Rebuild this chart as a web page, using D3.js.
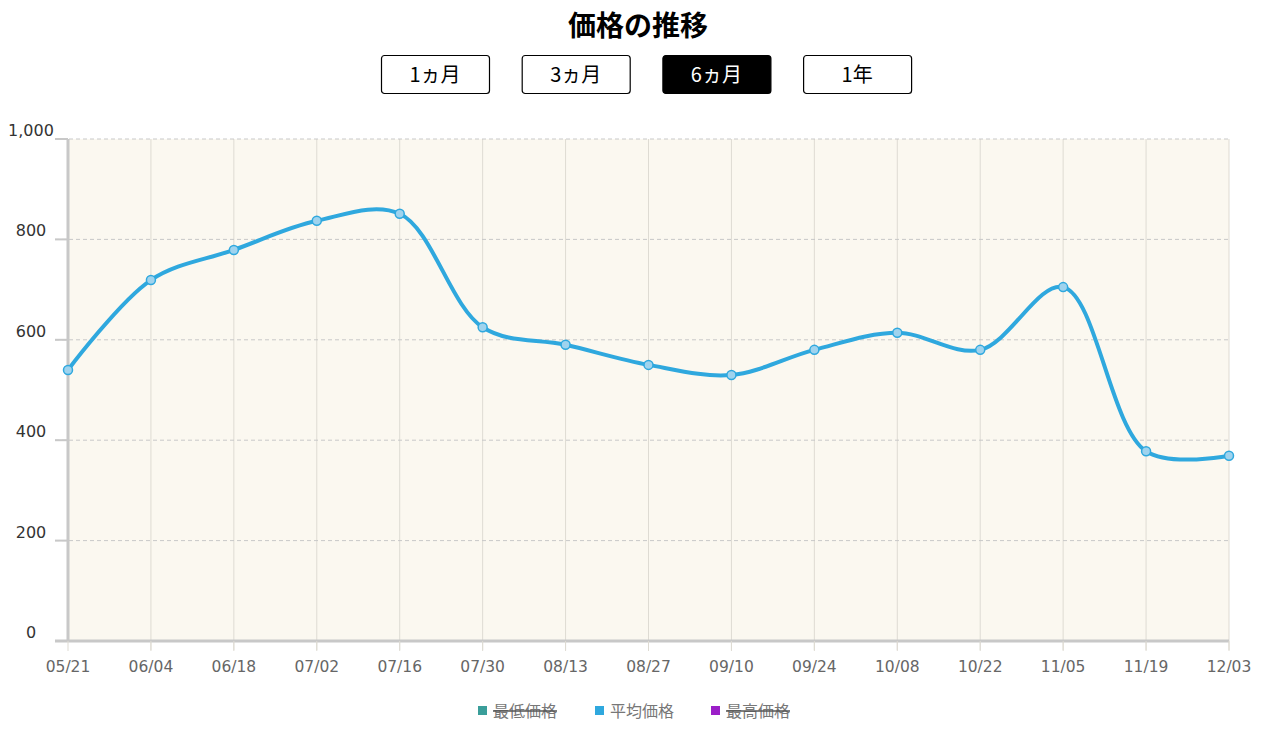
<!DOCTYPE html>
<html><head><meta charset="utf-8">
<script src="https://cdn.jsdelivr.net/npm/d3@7"></script>
<style>body{margin:0;background:#fff;font-family:"Noto Sans CJK JP","Noto Sans",sans-serif;}</style>
</head><body>
<div id="chart"></div>
<script>
var dates = ["05/21","06/04","06/18","07/02","07/16","07/30","08/13","08/27","09/10","09/24","10/08","10/22","11/05","11/19","12/03"];
var avgPrice = [540,719,779,837,851,625,590,550,530,580,614,580,705,378,369];
var yTicks = [0,200,400,600,800,1000];
var buttons = ["1ヵ月","3ヵ月","6ヵ月","1年"];
var legendItems = [{name:"最低価格",color:"#3a9e9a",off:true},{name:"平均価格",color:"#2fa8de",off:false},{name:"最高価格",color:"#9b1fc8",off:true}];

var svg = d3.select("#chart").append("svg").attr("width",1261).attr("height",729);
var font = '"Noto Sans CJK JP", sans-serif';

svg.append("text").attr("x",638).attr("y",36).attr("text-anchor","middle")
  .attr("font-size",28).attr("font-weight","bold").attr("font-family",font).text("価格の推移");

buttons.forEach(function(b,i){
  var g = svg.append("g").attr("transform","translate("+(381+i*140.7)+",55)");
  var active = i===2;
  g.append("rect").attr("x",0.5).attr("y",0.5).attr("width",108).attr("height",38).attr("rx",3)
    .attr("fill",active?"#000":"#fff").attr("stroke","#000").attr("stroke-width",1.2);
  g.append("text").attr("x",54).attr("y",27).attr("text-anchor","middle").attr("font-size",20)
    .attr("font-family",font).attr("fill",active?"#fff":"#000").text(b);
});

var x = d3.scalePoint().domain(dates).range([68,1229]);
var y = d3.scaleLinear().domain([0,1000]).range([641,139]);

svg.append("rect").attr("x",68).attr("y",139).attr("width",1161).attr("height",502).attr("fill","#fbf8f0");

svg.selectAll(".vg").data(dates.slice(1)).enter().append("line")
  .attr("x1",d=>x(d)).attr("x2",d=>x(d)).attr("y1",139).attr("y2",650)
  .attr("stroke","#dedbd3").attr("stroke-width",1);
svg.selectAll(".hg").data(yTicks.slice(1)).enter().append("line")
  .attr("x1",55).attr("x2",1229).attr("y1",d=>y(d)).attr("y2",d=>y(d))
  .attr("stroke","#c8c8c8").attr("stroke-dasharray","4,3");
svg.selectAll(".ht").data(yTicks).enter().append("line")
  .attr("x1",55).attr("x2",68).attr("y1",d=>y(d)).attr("y2",d=>y(d))
  .attr("stroke","#c8c8c8").attr("stroke-width",2);
svg.append("line").attr("x1",68).attr("x2",68).attr("y1",139).attr("y2",642).attr("stroke","#c8c8c8").attr("stroke-width",3);
svg.append("line").attr("x1",55).attr("x2",1229).attr("y1",641).attr("y2",641).attr("stroke","#c8c8c8").attr("stroke-width",3);
svg.selectAll(".xt").data(dates).enter().append("line")
  .attr("x1",d=>x(d)).attr("x2",d=>x(d)).attr("y1",641).attr("y2",651).attr("stroke","#dedbd3");

svg.selectAll(".yl").data(yTicks).enter().append("text")
  .attr("x",31).attr("y",d=>y(d)-3).attr("text-anchor","middle").attr("font-size",16)
  .attr("font-family","DejaVu Sans, sans-serif").attr("fill","#333").text(d3.format(","));
svg.selectAll(".xl").data(dates).enter().append("text")
  .attr("x",d=>x(d)).attr("y",672).attr("text-anchor","middle").attr("font-size",15.5)
  .attr("font-family","DejaVu Sans, sans-serif").attr("fill","#666").text(d=>d);

var line = d3.line().x((d,i)=>x(dates[i])).y(d=>y(d)).curve(d3.curveCatmullRom.alpha(0.5));
svg.append("path").datum(avgPrice).attr("d",line).attr("fill","none")
  .attr("stroke","#2fa8de").attr("stroke-width",4);
svg.selectAll(".pt").data(avgPrice).enter().append("circle")
  .attr("cx",(d,i)=>x(dates[i])).attr("cy",d=>y(d)).attr("r",4.5)
  .attr("fill","#9fd3ee").attr("stroke","#2fa8de").attr("stroke-width",1.5);

var lx = [478,595,711];
legendItems.forEach(function(l,i){
  svg.append("rect").attr("x",lx[i]).attr("y",706).attr("width",9).attr("height",9).attr("fill",l.color);
  var t = svg.append("text").attr("x",lx[i]+15).attr("y",717).attr("font-size",16)
    .attr("font-family",font).attr("fill","#777").text(l.name);
  if(l.off) svg.append("line").attr("x1",lx[i]+15).attr("x2",lx[i]+15+64).attr("y1",711).attr("y2",711)
    .attr("stroke","#555").attr("stroke-width",1.5);
});
</script>
</body></html>
